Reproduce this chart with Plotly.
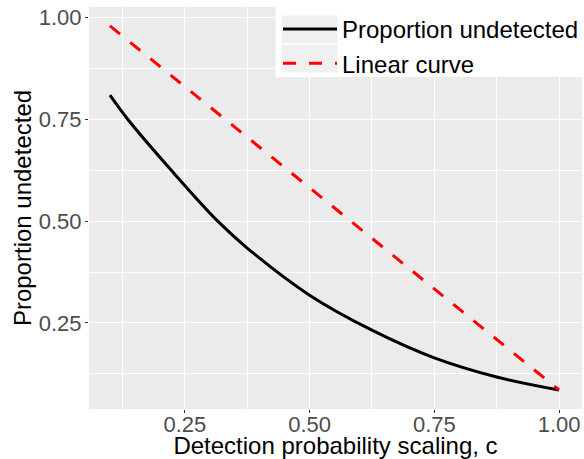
import plotly.graph_objects as go

# Data
c_values = [0.1, 0.136, 0.223, 0.316, 0.375, 0.5, 0.625, 0.75, 0.875, 1.0]
prop_undetected = [0.81, 0.75, 0.625, 0.5, 0.434, 0.318, 0.232, 0.164, 0.117, 0.085]
linear_c = [0.1, 1.0]
linear_y = [0.98, 0.085]

x_ticks = [0.25, 0.5, 0.75, 1.0]
x_ticklabels = ["0.25", "0.50", "0.75", "1.00"]
y_ticks = [0.25, 0.5, 0.75, 1.0]
y_ticklabels = ["0.25", "0.50", "0.75", "1.00"]
minor_ticks = [0.125, 0.375, 0.625, 0.875]

FONT = "Liberation Sans, Arial, sans-serif"

# plot area in pixels: x 89..583, y 7..409
L, R, T, B = 89, 583, 7, 409
PW, PH = R - L, B - T


def px(xp):
    return (xp - L) / PW


def py(yp):
    return (B - yp) / PH


fig = go.Figure()
fig.add_trace(go.Scatter(
    x=c_values, y=prop_undetected, mode="lines", name="Proportion undetected",
    line=dict(color="black", width=3, shape="spline", smoothing=1.0),
))
fig.add_trace(go.Scatter(
    x=linear_c, y=linear_y, mode="lines", name="Linear curve",
    line=dict(color="red", width=3, dash="13px,13px"),
))

axis_common = dict(
    showline=False, zeroline=False,
    gridcolor="white", gridwidth=1.4,
    ticks="outside", ticklen=3, tickwidth=1, tickcolor="#333333",
    tickfont=dict(family=FONT, size=22, color="#4D4D4D"),
    minor=dict(showgrid=True, gridcolor="white", gridwidth=0.6, ticks="", tickvals=minor_ticks),
)

shapes = [
    # legend box and key backgrounds
    dict(type="rect", xref="paper", yref="paper", x0=px(276), x1=px(590), y0=py(77), y1=py(0),
         fillcolor="white", line=dict(width=0), layer="above"),
    dict(type="rect", xref="paper", yref="paper", x0=px(282), x1=px(338), y0=py(43.5), y1=py(15.5),
         fillcolor="#F0F0F0", line=dict(width=0), layer="above"),
    dict(type="rect", xref="paper", yref="paper", x0=px(282), x1=px(338), y0=py(72.5), y1=py(45),
         fillcolor="#F0F0F0", line=dict(width=0), layer="above"),
]

fig.update_layout(
    width=584, height=459,
    margin=dict(l=L, r=584 - R, t=T, b=459 - B),
    paper_bgcolor="white", plot_bgcolor="#EBEBEB",
    font=dict(family=FONT, size=22, color="black"),
    xaxis=dict(
        range=[0.058, 1.046], tickvals=x_ticks, ticktext=x_ticklabels,
        ticklabelstandoff=-7,
        title=dict(text="Detection probability scaling, c", font=dict(size=24, color="black"), standoff=0),
        **axis_common,
    ),
    yaxis=dict(
        range=[0.0383, 1.0265], tickvals=y_ticks, ticktext=y_ticklabels,
        ticklabelstandoff=-1,
        title=dict(text="Proportion undetected", font=dict(size=24, color="black"), standoff=0),
        **axis_common,
    ),
    legend=dict(
        x=px(584), xanchor="right", y=1, yanchor="top",
        bgcolor="rgba(0,0,0,0)", borderwidth=0,
        font=dict(family=FONT, size=24, color="black"),
        itemwidth=54, tracegroupgap=0,
    ),
    shapes=shapes,
)

fig.write_html("out.html")
